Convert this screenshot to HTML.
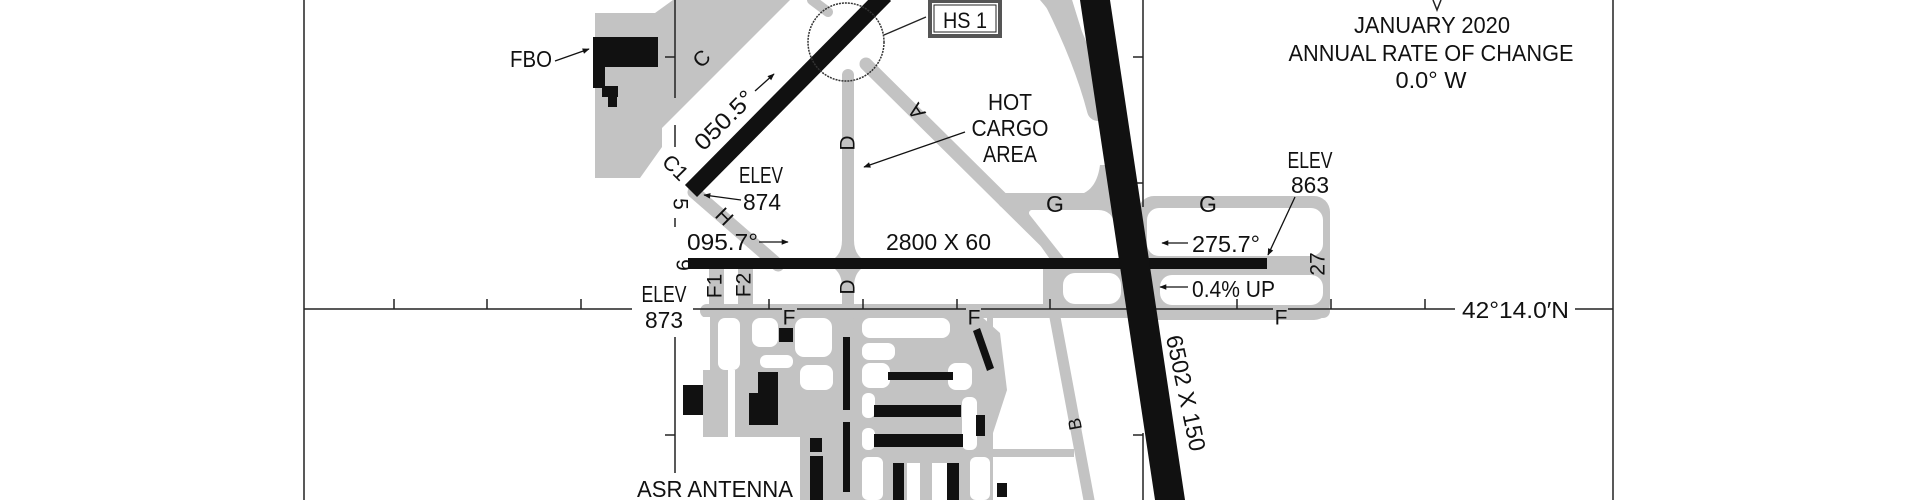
<!DOCTYPE html>
<html><head><meta charset="utf-8"><style>
html,body{margin:0;padding:0;background:#fff;}
svg{display:block;}
text{font-family:"Liberation Sans",sans-serif;fill:#111;}
</style></head><body>
<svg width="1916" height="500" viewBox="0 0 1916 500" xmlns="http://www.w3.org/2000/svg">
<defs>
<marker id="ah" viewBox="0 0 10 10" refX="9" refY="5" markerWidth="9" markerHeight="7" orient="auto" markerUnits="userSpaceOnUse"><path d="M0,1 L10,5 L0,9 Z" fill="#111"/></marker>
</defs>
<rect width="1916" height="500" fill="#fff"/>

<g fill="#c3c3c3" stroke="none">
  <polygon points="595,13 655,13 673,0 790,0 662,128 662,147 640,178 595,178"/>
  <path d="M1038,0 L1072,0 L1090,60 L1098,110 L1096,115 Q1080,50 1052,0 Z"/>
  <path d="M1040,0 L1072,0 L1094,70 L1100,110 Q1075,40 1040,0 Z"/>
  <path d="M1070,196 Q1096,196 1100,165 L1112,165 L1116,200 L1070,200 Z"/>
  <polygon points="1003,193 1117,193 1127,262 1052,262"/>
  <polygon points="1043,266 1130,266 1140,317 1043,317"/>
  <rect x="1138" y="196" width="192" height="124" rx="16"/>
  <rect x="700" y="304" width="630" height="14" rx="7"/>
  <rect x="703" y="317" width="266" height="183"/>
  <polygon points="965,317 982,317 1000,333 1007,390 993,433 993,500 965,500"/>
  <rect x="990" y="449" width="84" height="8"/>
  <rect x="709" y="262" width="15" height="50"/>
  <rect x="738" y="262" width="15" height="50"/>
  <path d="M835,258 Q842,252 842,240 L854,240 Q854,252 861,258 Z"/>
  <path d="M835,269 Q842,275 842,287 L854,287 Q854,275 861,269 Z"/>
</g>
<g stroke="#c3c3c3" fill="none" stroke-linecap="round">
  <path d="M1055,0 Q1085,60 1098,110" stroke-width="22"/>
  <line x1="848" y1="75" x2="848" y2="317" stroke-width="12"/>
  <line x1="866" y1="64" x2="1062" y2="258" stroke-width="13"/>
  <line x1="694" y1="192" x2="778" y2="265" stroke-width="13"/>
  <line x1="1005" y1="201" x2="1110" y2="201" stroke-width="14"/>
  <line x1="1054" y1="312" x2="1089" y2="500" stroke-width="11"/>
  <line x1="990" y1="317" x2="990" y2="500" stroke-width="6"/>
  <line x1="812" y1="0" x2="828" y2="12" stroke-width="10"/>
</g>
<g fill="#fff">
  <path d="M1032,213 L1098,213 Q1110,213 1112,226 L1118,256 L1066,256 Z" stroke="#fff" stroke-width="6" stroke-linejoin="round"/>
  <rect x="1063" y="273" width="58" height="31" rx="12"/>
  <rect x="1147" y="208" width="176" height="48" rx="12"/>
  <rect x="1160" y="275" width="163" height="30" rx="12"/>
  <rect x="703" y="317" width="7" height="53"/>
  <rect x="718" y="318" width="22" height="52" rx="7"/>
  <rect x="728" y="370" width="7" height="67"/>
  <rect x="703" y="437" width="97" height="63"/>
  <rect x="752" y="318" width="26" height="29" rx="8"/>
  <rect x="795" y="318" width="37" height="39" rx="9"/>
  <rect x="760" y="355" width="33" height="13" rx="6"/>
  <rect x="800" y="365" width="33" height="25" rx="8"/>
  <rect x="862" y="318" width="88" height="20" rx="8"/>
  <rect x="862" y="343" width="33" height="17" rx="7"/>
  <rect x="862" y="363" width="28" height="25" rx="8"/>
  <rect x="862" y="393" width="13" height="25" rx="6"/>
  <rect x="862" y="428" width="13" height="22" rx="6"/>
  <rect x="862" y="457" width="21" height="43" rx="6"/>
  <rect x="907" y="463" width="13" height="37"/>
  <rect x="932" y="463" width="15" height="37"/>
  <rect x="948" y="363" width="24" height="27" rx="8"/>
  <rect x="962" y="397" width="15" height="53" rx="6"/>
  <rect x="970" y="457" width="20" height="43" rx="6"/>
</g>

<g stroke="#222" stroke-width="1.5" fill="none">
  <line x1="304" y1="0" x2="304" y2="500"/>
  <line x1="1613" y1="0" x2="1613" y2="500"/>
  <line x1="675" y1="0" x2="675" y2="98"/>
  <line x1="675" y1="125" x2="675" y2="147"/>
  <line x1="675" y1="218" x2="675" y2="227"/>
  <line x1="675" y1="337" x2="675" y2="473"/>
  <line x1="665" y1="57" x2="675" y2="57"/>
  <line x1="665" y1="435" x2="675" y2="435"/>
  <line x1="1143" y1="0" x2="1143" y2="207"/>
  <line x1="1143" y1="433" x2="1143" y2="500"/>
  <line x1="1133" y1="57" x2="1143" y2="57"/>
  <line x1="1137" y1="183" x2="1143" y2="183"/>
  <line x1="1133" y1="435" x2="1143" y2="435"/>
  <line x1="304" y1="309" x2="632" y2="309"/>
  <line x1="693" y1="309" x2="782" y2="309"/>
  <line x1="797" y1="309" x2="966" y2="309"/>
  <line x1="981" y1="309" x2="1273" y2="309"/>
  <line x1="1288" y1="309" x2="1455" y2="309"/>
  <line x1="1575" y1="309" x2="1613" y2="309"/>
  <path d="M394,309v-10M487,309v-10M581,309v-10M769,309v-10M863,309v-10M957,309v-10M1050,309v-10M1144,309v-10M1237,309v-10M1331,309v-10M1425,309v-10"/>
  <path d="M1433,0 L1437,10 L1441,0"/>
</g>

<g fill="#111">
  <rect x="688" y="258" width="579" height="11"/>
  <polygon points="1080,0 1110,0 1185,500 1155,500"/>
</g>
<line x1="691" y1="191" x2="885" y2="-5" stroke="#111" stroke-width="17"/>

<g fill="#111">
  <rect x="593" y="37" width="65" height="30"/>
  <rect x="593" y="66" width="12" height="22"/>
  <rect x="602" y="86" width="16" height="11"/>
  <rect x="608" y="96" width="9" height="11"/>
  <rect x="779" y="328" width="14" height="14"/>
  <rect x="843" y="337" width="7" height="73"/>
  <rect x="843" y="422" width="7" height="70"/>
  <rect x="683" y="385" width="20" height="30"/>
  <rect x="749" y="393" width="29" height="32"/>
  <rect x="758" y="372" width="20" height="22"/>
  <rect x="888" y="372" width="65" height="8"/>
  <rect x="874" y="405" width="87" height="12"/>
  <rect x="874" y="434" width="89" height="13"/>
  <polygon points="973,331 980,328 994,368 987,371"/>
  <rect x="976" y="415" width="9" height="21"/>
  <rect x="810" y="438" width="12" height="14"/>
  <rect x="810" y="456" width="13" height="44"/>
  <rect x="893" y="463" width="11" height="37"/>
  <rect x="947" y="463" width="12" height="37"/>
  <rect x="997" y="483" width="10" height="14"/>
</g>

<ellipse cx="846" cy="42" rx="38" ry="39" fill="none" stroke="#333" stroke-width="1.5" stroke-dasharray="2,1"/>
<line x1="926" y1="17" x2="884" y2="35" stroke="#222" stroke-width="1.3"/>
<rect x="930" y="1" width="70" height="35" fill="#fff" stroke="#555" stroke-width="4"/>
<rect x="934" y="5" width="62" height="27" fill="#fff" stroke="#222" stroke-width="1"/>
<text x="965" y="28" font-size="22" text-anchor="middle" textLength="44" lengthAdjust="spacingAndGlyphs">HS 1</text>

<g stroke="#111" stroke-width="1.3" fill="none" marker-end="url(#ah)">
  <line x1="555" y1="61" x2="589" y2="49"/>
  <line x1="755" y1="91" x2="774" y2="74"/>
  <line x1="965" y1="132" x2="864" y2="167"/>
  <line x1="741" y1="200" x2="704" y2="195"/>
  <line x1="759" y1="242" x2="788" y2="242"/>
  <line x1="1188" y1="243" x2="1162" y2="243"/>
  <line x1="1188" y1="287" x2="1160" y2="287"/>
  <line x1="1295" y1="197" x2="1268" y2="255"/>
</g>

<g font-size="23">
  <text x="1432" y="33" text-anchor="middle" textLength="156" lengthAdjust="spacingAndGlyphs">JANUARY 2020</text>
  <text x="1431" y="61" text-anchor="middle" textLength="285" lengthAdjust="spacingAndGlyphs">ANNUAL RATE OF CHANGE</text>
  <text x="1431" y="88" text-anchor="middle" textLength="71" lengthAdjust="spacingAndGlyphs">0.0° W</text>
  <text x="510" y="67" textLength="42" lengthAdjust="spacingAndGlyphs">FBO</text>
  <text x="1010" y="110" text-anchor="middle" textLength="44" lengthAdjust="spacingAndGlyphs">HOT</text>
  <text x="1010" y="136" text-anchor="middle" textLength="77" lengthAdjust="spacingAndGlyphs">CARGO</text>
  <text x="1010" y="162" text-anchor="middle" textLength="54" lengthAdjust="spacingAndGlyphs">AREA</text>
  <text x="761" y="183" text-anchor="middle" textLength="44" lengthAdjust="spacingAndGlyphs">ELEV</text>
  <text x="762" y="210" text-anchor="middle" textLength="38" lengthAdjust="spacingAndGlyphs">874</text>
  <text x="687" y="250" textLength="71" lengthAdjust="spacingAndGlyphs">095.7°</text>
  <text x="886" y="250" textLength="105" lengthAdjust="spacingAndGlyphs">2800 X 60</text>
  <text x="1192" y="252" textLength="68" lengthAdjust="spacingAndGlyphs">275.7°</text>
  <text x="1192" y="297" textLength="83" lengthAdjust="spacingAndGlyphs">0.4% UP</text>
  <text x="1310" y="168" text-anchor="middle" textLength="45" lengthAdjust="spacingAndGlyphs">ELEV</text>
  <text x="1310" y="193" text-anchor="middle" textLength="38" lengthAdjust="spacingAndGlyphs">863</text>
  <text x="664" y="302" text-anchor="middle" textLength="45" lengthAdjust="spacingAndGlyphs">ELEV</text>
  <text x="664" y="328" text-anchor="middle" textLength="38" lengthAdjust="spacingAndGlyphs">873</text>
  <text x="1462" y="318" textLength="107" lengthAdjust="spacingAndGlyphs">42°14.0′N</text>
  <text x="637" y="497" textLength="156" lengthAdjust="spacingAndGlyphs">ASR ANTENNA</text>
  <text x="1055" y="212" text-anchor="middle">G</text>
  <text x="1208" y="212" text-anchor="middle">G</text>
</g>
<g font-size="21" text-anchor="middle" dominant-baseline="central">
  <text transform="translate(789,318)">F</text>
  <text transform="translate(974,318)">F</text>
  <text transform="translate(1281,318)">F</text>
  <text transform="translate(702,59) rotate(-45)">C</text>
  <text transform="translate(724,120) rotate(-45)" font-size="23" textLength="74" lengthAdjust="spacingAndGlyphs">050.5°</text>
  <text transform="translate(675,168) rotate(45)">C1</text>
  <text transform="translate(680,204) rotate(90)">5</text>
  <text transform="translate(724,217) rotate(45)">H</text>
  <text transform="translate(683,265) rotate(90)">9</text>
  <text transform="translate(715,286) rotate(-90)">F1</text>
  <text transform="translate(744,285) rotate(-90)">F2</text>
  <text transform="translate(848,143) rotate(-90)">D</text>
  <text transform="translate(848,287) rotate(-90)">D</text>
  <text transform="translate(917,111) rotate(-125)">A</text>
  <text transform="translate(1318,264) rotate(-90)">27</text>
  <text transform="translate(1075,424) rotate(-100)" font-size="18">B</text>
  <text transform="translate(1186,393) rotate(78)" font-size="23" textLength="118" lengthAdjust="spacingAndGlyphs">6502 X 150</text>
</g>
</svg>
</body></html>
